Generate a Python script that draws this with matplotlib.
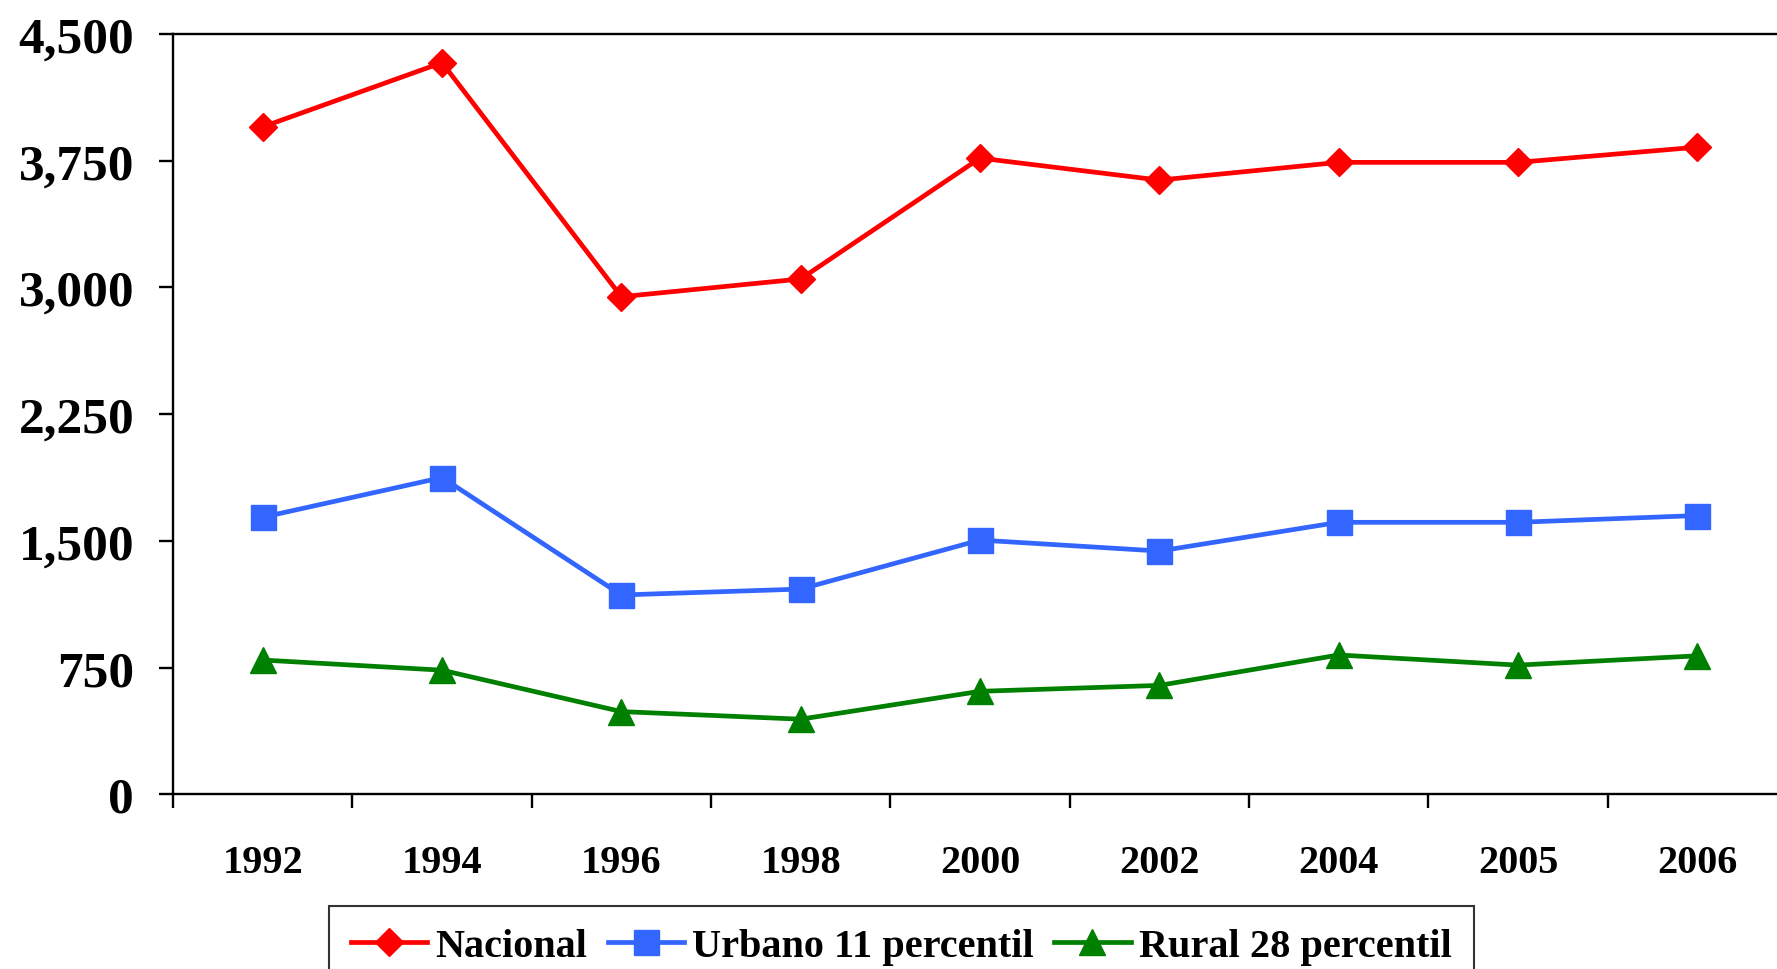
import matplotlib
matplotlib.use("Agg")
import matplotlib.pyplot as plt
import numpy as np

# ─── Dados ─────────────────────────────────────────────────────────────
years = ["1992", "1994", "1996", "1998", "2000", "2002", "2004", "2005", "2006"]
nacional = [3950, 4330, 2945, 3050, 3765, 3635, 3740, 3740, 3830]
urbano = [1640, 1875, 1180, 1215, 1505, 1440, 1610, 1610, 1650]
rural = [795, 735, 490, 445, 610, 645, 825, 765, 820]

y_ticks = [0, 750, 1500, 2250, 3000, 3750, 4500]
y_labels = ["0", "750", "1,500", "2,250", "3,000", "3,750", "4,500"]

plt.rcParams["font.family"] = ["Liberation Serif", "DejaVu Serif"]
plt.rcParams["font.weight"] = "bold"

fig = plt.figure(figsize=(17.77, 9.70), dpi=100)
ax = fig.add_axes([0.0974, 0.180, 0.9082, 0.784])

x = np.arange(len(years))
ax.plot(x, nacional, color="#FF0000", lw=3.4, marker="D", ms=14, label="Nacional")
ax.plot(x, urbano, color="#3366FF", lw=3.4, marker="s", ms=18, label="Urbano 11 percentil")
ax.plot(x, rural, color="#008000", lw=3.4, marker="^", ms=19, label="Rural 28 percentil")

ax.set_xlim(-0.5, len(years) - 0.5)
ax.set_ylim(0, 4500)
ax.set_yticks(y_ticks)
ax.set_yticklabels(y_labels, fontsize=37, fontweight="bold")
ax.tick_params(axis="y", direction="out", length=10, width=1.7, pad=18)

# marcas nos limites das categorias, rótulos no centro
ax.set_xticks(np.arange(len(years) + 1) - 0.5)
ax.set_xticklabels([])
ax.set_xticks(x, minor=True)
ax.set_xticklabels(years, minor=True, fontsize=29, fontweight="bold")
ax.tick_params(axis="x", which="major", direction="out", length=10, width=1.7)
ax.tick_params(axis="x", which="minor", length=0, pad=36)

for side in ["left", "bottom", "top", "right"]:
    ax.spines[side].set_linewidth(1.7)

leg = fig.legend(loc="upper left", bbox_to_anchor=(0.185, 0.065), ncol=3,
                 fontsize=29, frameon=True, fancybox=False, edgecolor="black",
                 borderaxespad=0, borderpad=0.55, handlelength=1.9,
                 handletextpad=0.2, columnspacing=0.5)
leg.get_frame().set_linewidth(1.5)
for t in leg.get_texts():
    t.set_fontweight("bold")

fig.savefig("out.png", dpi=100)
plt.close(fig)
